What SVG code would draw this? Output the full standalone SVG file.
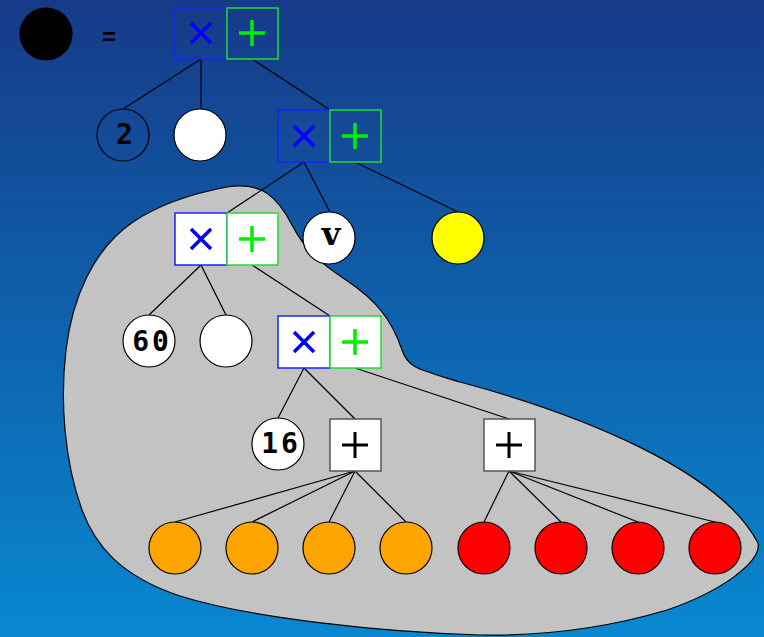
<svg xmlns="http://www.w3.org/2000/svg" width="764" height="637" viewBox="0 0 764 637">
  <defs>
    <linearGradient id="bg" x1="0" y1="0" x2="0" y2="1">
      <stop offset="0" stop-color="#163a88"/>
      <stop offset="1" stop-color="#0888d0"/>
    </linearGradient>
    <!-- glyphs drawn inside operator boxes, centred on 0,0 -->
    <g id="times">
      <line x1="-10" y1="-10" x2="10" y2="10"/>
      <line x1="-10" y1="10" x2="10" y2="-10"/>
    </g>
    <g id="plus">
      <line x1="-13" y1="0" x2="13" y2="0"/>
      <line x1="0" y1="-13" x2="0" y2="13"/>
    </g>
  </defs>
  <style>
    .edge { stroke: #000; stroke-width: 1.2; fill: none; }
    .leaf { stroke: #000; stroke-width: 1.2; }
    .mulbox { stroke: #1a22ff; stroke-width: 1.5; }
    .addbox { stroke: #22dd33; stroke-width: 1.5; }
    .sumbox { stroke: #555; stroke-width: 1.5; fill: #fff; }
    .mulsym { stroke: #0000ff; stroke-width: 3.5; }
    .addsym { stroke: #00ee00; stroke-width: 3.5; }
    .sumsym { stroke: #000; stroke-width: 3; }
    .lbl { font-family: "DejaVu Sans Mono", "Liberation Mono", monospace; font-weight: bold; font-size: 28px; letter-spacing: 3px; text-anchor: middle; fill: #000; }
    .var { font-family: "DejaVu Serif", "Liberation Serif", serif; font-weight: bold; font-size: 32px; text-anchor: middle; fill: #000; }
  </style>

  <rect x="0" y="0" width="764" height="637" fill="url(#bg)"/>

  <!-- shaded region around the lower subtree -->
  <path id="region" fill="#c3c3c3" stroke="#000" stroke-width="1.2"
        d="M 227,187 C 262,181 278,198 292,225 C 306,252 322,264 346,280 C 376,300 392,320 402,350 C 408,368 418,369 460,382 C 580,414 720,470 758,543 C 762,562 720,592 667,610 C 600,630 540,636 480,635 C 380,632 250,618 180,596 C 120,576 95,545 82,510 C 64,460 60,400 66,350 C 72,300 92,250 133,222 C 160,204 195,193 227,187 Z"/>

  <g id="connectors">
    <line class="edge" x1="201" y1="59" x2="123" y2="109"/>
    <line class="edge" x1="201" y1="59" x2="201" y2="109"/>
    <line class="edge" x1="252" y1="59" x2="330" y2="110"/>

    <line class="edge" x1="304" y1="162" x2="227" y2="213"/>
    <line class="edge" x1="304" y1="162" x2="330" y2="212"/>
    <line class="edge" x1="355" y1="162" x2="458" y2="212"/>

    <line class="edge" x1="201" y1="265" x2="149" y2="315"/>
    <line class="edge" x1="201" y1="265" x2="226" y2="315"/>
    <line class="edge" x1="252" y1="265" x2="330" y2="316"/>

    <line class="edge" x1="304" y1="368" x2="278" y2="418"/>
    <line class="edge" x1="304" y1="368" x2="355" y2="419"/>
    <line class="edge" x1="355" y1="368" x2="509" y2="419"/>

    <line class="edge" x1="355" y1="471" x2="175" y2="522"/>
    <line class="edge" x1="355" y1="471" x2="252" y2="522"/>
    <line class="edge" x1="355" y1="471" x2="329" y2="522"/>
    <line class="edge" x1="355" y1="471" x2="406" y2="522"/>

    <line class="edge" x1="509" y1="471" x2="484" y2="522"/>
    <line class="edge" x1="509" y1="471" x2="561" y2="522"/>
    <line class="edge" x1="509" y1="471" x2="638" y2="522"/>
    <line class="edge" x1="509" y1="471" x2="715" y2="522"/>
  </g>

  <!-- legend: black node equals the tree -->
  <g id="legend">
    <circle class="leaf" cx="46" cy="34" r="26" fill="#000"/>
    <text x="109" y="45" font-family="Liberation Sans, Arial, sans-serif" font-weight="bold" font-size="24" text-anchor="middle" fill="#000">=</text>
  </g>

  <g id="op1">
    <rect class="mulbox" x="175" y="8" width="52" height="51" fill="none"/>
    <rect class="addbox" x="227" y="8" width="51" height="51" fill="none"/>
    <use href="#times" class="mulsym" x="201" y="33"/>
    <use href="#plus" class="addsym" x="252" y="33"/>
  </g>

  <g id="n2"><circle class="leaf" cx="123" cy="135" r="26" fill="none"/><text class="lbl" x="126" y="144">2</text></g>
  <g id="w1"><circle class="leaf" cx="200" cy="135" r="26" fill="#fff"/></g>

  <g id="op2">
    <rect class="mulbox" x="278" y="110" width="52" height="52" fill="none"/>
    <rect class="addbox" x="330" y="110" width="51" height="52" fill="none"/>
    <use href="#times" class="mulsym" x="304" y="136"/>
    <use href="#plus" class="addsym" x="355" y="136"/>
  </g>

  <g id="op3">
    <rect class="mulbox" x="175" y="213" width="52" height="52" fill="#fff"/>
    <rect class="addbox" x="227" y="213" width="51" height="52" fill="#fff"/>
    <use href="#times" class="mulsym" x="201" y="239"/>
    <use href="#plus" class="addsym" x="252" y="239"/>
  </g>

  <g id="nv"><circle class="leaf" cx="329" cy="238" r="26" fill="#fff"/><text class="var" x="331" y="245">v</text></g>
  <g id="yellow"><circle class="leaf" cx="458" cy="238" r="26" fill="#ffff00"/></g>

  <g id="n60"><circle class="leaf" cx="149" cy="341" r="26" fill="#fff"/><text class="lbl" x="152" y="351">60</text></g>
  <g id="w2"><circle class="leaf" cx="226" cy="341" r="26" fill="#fff"/></g>

  <g id="op4">
    <rect class="mulbox" x="278" y="316" width="52" height="52" fill="#fff"/>
    <rect class="addbox" x="330" y="316" width="51" height="52" fill="#fff"/>
    <use href="#times" class="mulsym" x="304" y="342"/>
    <use href="#plus" class="addsym" x="355" y="342"/>
  </g>

  <g id="n16"><circle class="leaf" cx="278" cy="444" r="26" fill="#fff"/><text class="lbl" x="281" y="453">16</text></g>

  <g id="sum1">
    <rect class="sumbox" x="330" y="419" width="51" height="52"/>
    <use href="#plus" class="sumsym" x="355" y="445"/>
  </g>
  <g id="sum2">
    <rect class="sumbox" x="484" y="419" width="51" height="52"/>
    <use href="#plus" class="sumsym" x="509" y="445"/>
  </g>

  <g id="orange1"><circle class="leaf" cx="175" cy="548" r="26" fill="#ffa500"/></g>
  <g id="orange2"><circle class="leaf" cx="252" cy="548" r="26" fill="#ffa500"/></g>
  <g id="orange3"><circle class="leaf" cx="329" cy="548" r="26" fill="#ffa500"/></g>
  <g id="orange4"><circle class="leaf" cx="406" cy="548" r="26" fill="#ffa500"/></g>
  <g id="red1"><circle class="leaf" cx="484" cy="548" r="26" fill="#ff0000"/></g>
  <g id="red2"><circle class="leaf" cx="561" cy="548" r="26" fill="#ff0000"/></g>
  <g id="red3"><circle class="leaf" cx="638" cy="548" r="26" fill="#ff0000"/></g>
  <g id="red4"><circle class="leaf" cx="715" cy="548" r="26" fill="#ff0000"/></g>
</svg>
